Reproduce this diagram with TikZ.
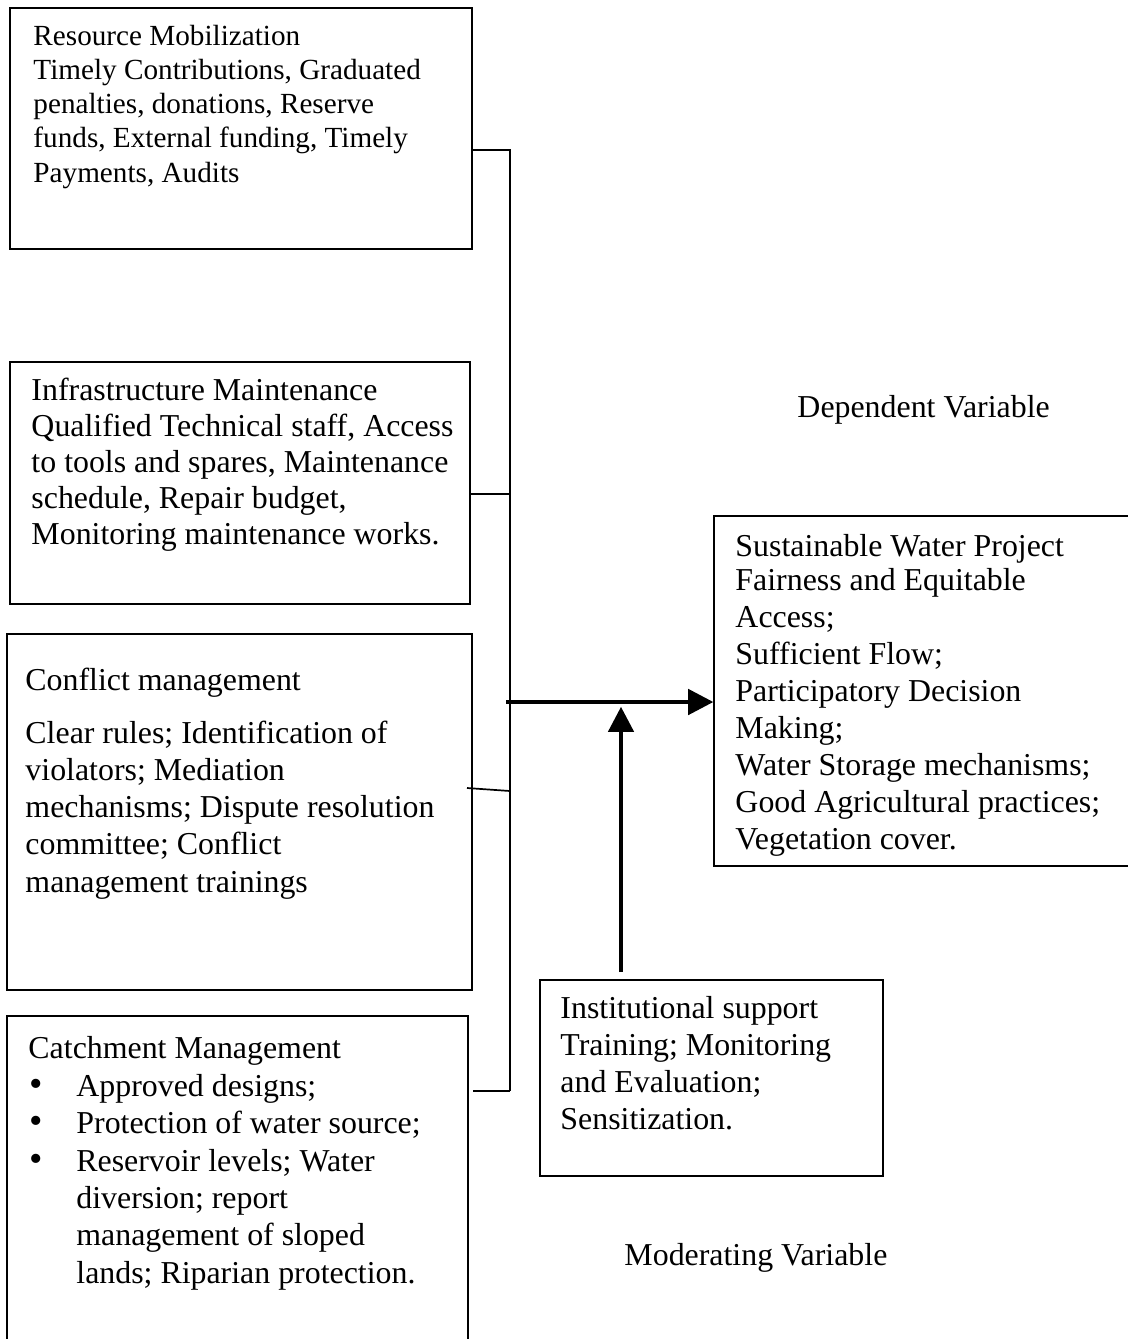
\documentclass[tikz,border=0pt]{standalone}
\usepackage{fontspec}
\setmainfont{Liberation Serif}
\usetikzlibrary{arrows.meta,fit}

\newcommand{\itembullet}{\makebox[19.7pt][l]{\hspace{0.4pt}\scalebox{1.2}{\textbullet}}}
\newcommand{\itemgap}{\hspace*{19.7pt}}

\begin{document}
\begin{tikzpicture}[x=0.411pt, y=-0.411pt, >={Triangle[length=10.3pt, width=10.5pt]},
	varbox/.style={draw, line width=0.6pt, inner sep=0pt},
	txt/.style={anchor=north west, align=left, inner sep=0pt, font=\fontsize{13.1pt}{15.2pt}\selectfont},
	label/.style={anchor=base west, inner sep=0pt, font=\fontsize{13.1pt}{15.2pt}\selectfont},
	link/.style={line width=0.7pt},
	flow/.style={->, line width=1.25pt}]
	\useasboundingbox (0,0) rectangle (1128,1339);
	\clip (0,0) rectangle (1128,1339);
	% independent variables
	\node[varbox, fit={(10,8) (472,249)}] (res) {};
	\node[txt, font=\fontsize{12pt}{14pt}\selectfont] (restxt) at (33,25) {Resource Mobilization\\Timely Contributions, Graduated\\penalties, donations, Reserve\\funds, External funding, Timely\\Payments, Audits};
	\node[varbox, fit={(10,362) (470,604)}] (inf) {};
	\node[txt, font=\fontsize{13.1pt}{14.8pt}\selectfont] (inftxt) at (31,378) {Infrastructure Maintenance\\Qualified Technical staff, Access\\to tools and spares, Maintenance\\schedule, Repair budget,\\Monitoring maintenance works.};
	\node[varbox, fit={(7,634) (472,990)}] (con) {};
	\node[txt, font=\fontsize{13.1pt}{15.3pt}\selectfont] (contxt) at (25,668) {Conflict management\\[6.2pt]Clear rules; Identification of\\violators; Mediation\\mechanisms; Dispute resolution\\committee; Conflict\\management trainings};
	\node[varbox, fit={(7,1016) (468,1380)}] (cat) {};
	\node[txt, font=\fontsize{13.1pt}{15.4pt}\selectfont] (cattxt) at (28,1036) {Catchment Management\\
		\itembullet Approved designs;\\
		\itembullet Protection of water source;\\
		\itembullet Reservoir levels; Water\\
		\itemgap diversion; report\\
		\itemgap management of sloped\\
		\itemgap lands; Riparian protection.};
	% dependent and moderating variables
	\node[varbox, fit={(714,516) (1170,866)}] (sus) {};
	\node[txt] (sustxt) at (735,534) {Sustainable Water Project\\[-1.2pt]Fairness and Equitable\\Access;\\Sufficient Flow;\\Participatory Decision\\Making;\\Water Storage mechanisms;\\Good Agricultural practices;\\Vegetation cover.};
	\node[varbox, fit={(540,980) (883,1176)}] (ins) {};
	\node[txt] (instxt) at (560,996) {Institutional support\\Training; Monitoring\\and Evaluation;\\Sensitization.};
	\node[label] (dep) at (797,417) {Dependent Variable};
	\node[label] (mod) at (624,1265) {Moderating Variable};
	% bus joining the four boxes
	\coordinate (bres) at (510,150);
	\coordinate (binf) at (510,494);
	\coordinate (scon) at (467,788);
	\coordinate (bcon) at (510,791);
	\coordinate (scat) at (473,1091);
	\coordinate (bcat) at (510,1091);
	\draw[link] (res.east |- bres) -- (bres) -- (bcat);
	\draw[link] (inf.east |- binf) -- (binf);
	\draw[link] (scon) -- (bcon);
	\draw[link] (scat) -- (bcat);
	% arrows
	\coordinate (join) at (506,702);
	\coordinate (modtail) at (621,972);
	\draw[flow] (join) -- (sus.west |- join);
	\draw[flow, shorten >=2pt] (modtail) -- (modtail |- join);
\end{tikzpicture}
\end{document}
